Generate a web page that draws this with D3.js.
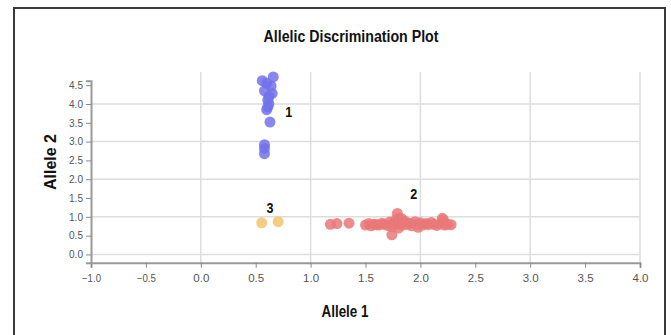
<!DOCTYPE html>
<html lang="en">
<head>
  <meta charset="utf-8">
  <script src="https://d3js.org/d3.v7.min.js"></script>
  <style>
    body { margin: 0; background: #fff; }
    text { font-family: "Liberation Sans", Arial, sans-serif; }
    .tick text { fill: #555; font-size: 10px; }
    .tick line { stroke: #888; }
    .domain { stroke: #999; stroke-width: 2; }
  </style>
</head>
<body>
<script>
// cluster 1 (blue), cluster 2 (red), cluster 3 (orange)
const blueX = [0.56, 0.66, 0.60, 0.64, 0.58, 0.65, 0.62, 0.61, 0.62, 0.61, 0.60, 0.63, 0.58, 0.58, 0.58];
const blueY = [4.62, 4.72, 4.55, 4.48, 4.35, 4.28, 4.20, 4.10, 4.00, 3.92, 3.85, 3.52, 2.92, 2.82, 2.68];

const redX = [1.18, 1.24, 1.35, 1.50, 1.53, 1.55, 1.58, 1.60, 1.62, 1.65, 1.67, 1.70, 1.72, 1.74, 1.75,
              1.77, 1.78, 1.79, 1.80, 1.82, 1.84, 1.86, 1.88, 1.90, 1.92, 1.95, 1.97, 2.00, 2.02, 2.05,
              2.07, 2.10, 2.12, 2.15, 2.18, 2.20, 2.22, 2.25, 2.28, 1.80, 1.74, 2.21, 1.83, 1.98];
const redY = [0.80, 0.82, 0.83, 0.78, 0.82, 0.76, 0.80, 0.79, 0.78, 0.83, 0.80, 0.77, 0.86, 0.74, 0.82,
              0.90, 0.80, 1.09, 0.96, 0.84, 0.78, 0.88, 0.80, 0.83, 0.76, 0.87, 0.80, 0.84, 0.78, 0.82,
              0.79, 0.85, 0.80, 0.77, 0.82, 0.96, 0.78, 0.80, 0.79, 0.70, 0.52, 0.92, 0.95, 0.72];

const orangeX = [0.555, 0.705];
const orangeY = [0.84, 0.87];

// cluster labels
const labelText = ["1", "2", "3"];
const labelX = [0.80, 1.94, 0.63];
const labelY = [3.76, 1.58, 1.20];

const xTicks = [-1.0, -0.5, 0.0, 0.5, 1.0, 1.5, 2.0, 2.5, 3.0, 3.5, 4.0];
const yTicks = [0.0, 0.5, 1.0, 1.5, 2.0, 2.5, 3.0, 3.5, 4.0, 4.5];
const gridX = [0, 1, 2, 3, 4];
const gridY = [0, 1, 2, 3, 4];

const W = 671, H = 335;
var svg = d3.select("body").append("svg")
  .attr("width", W)
  .attr("height", H);

// frame
svg.append("rect")
  .attr("x", 14).attr("y", 8)
  .attr("width", 651).attr("height", 340)
  .attr("fill", "#fff")
  .attr("stroke", "#3a3a3a")
  .attr("stroke-width", 2);

var x = d3.scaleLinear().domain([-1, 4]).range([91, 640]);
var y = d3.scaleLinear().domain([-0.22, 4.62]).range([262.7, 80.7]);

// grid
svg.append("g").selectAll("line").data(gridX).enter().append("line")
  .attr("x1", d => x(d)).attr("x2", d => x(d))
  .attr("y1", 72).attr("y2", y.range()[0])
  .attr("stroke", "#ddd").attr("stroke-width", 1.5);
svg.append("g").selectAll("line").data(gridY).enter().append("line")
  .attr("x1", x.range()[0]).attr("x2", x.range()[1])
  .attr("y1", d => y(d)).attr("y2", d => y(d))
  .attr("stroke", "#ddd").attr("stroke-width", 1.5);

// axes
var xAxis = svg.append("g")
  .attr("transform", "translate(0," + y.range()[0] + ")")
  .call(d3.axisBottom(x).tickValues(xTicks).tickFormat(d3.format(".1f")).tickSize(5).tickSizeOuter(5));
xAxis.selectAll(".tick text").attr("dy", "1.1em").attr("textLength", 16).attr("lengthAdjust", "spacingAndGlyphs");
xAxis.selectAll(".tick text").filter(d => d < 0).attr("textLength", 19);
var yAxis = svg.append("g")
  .attr("transform", "translate(" + x.range()[0] + ",0)")
  .call(d3.axisLeft(y).tickValues(yTicks).tickFormat(d3.format(".1f")).tickSize(5).tickSizeOuter(5));
yAxis.selectAll(".tick text").attr("textLength", 14).attr("lengthAdjust", "spacingAndGlyphs");

// points
function dots(xs, ys, color) {
  svg.append("g").selectAll("circle")
    .data(xs.map((d, i) => ({x: d, y: ys[i]})))
    .enter().append("circle")
    .attr("cx", d => x(d.x))
    .attr("cy", d => y(d.y))
    .attr("r", 5.5)
    .attr("fill", color)
    .attr("fill-opacity", 0.85);
}
dots(blueX, blueY, "#7272ea");
dots(redX, redY, "#ea7878");
dots(orangeX, orangeY, "#f2c36e");

// cluster labels
svg.append("g").selectAll("text")
  .data(labelText).enter().append("text")
  .attr("x", (d, i) => x(labelX[i]))
  .attr("y", (d, i) => y(labelY[i]))
  .attr("text-anchor", "middle")
  .attr("dominant-baseline", "middle")
  .attr("font-size", 15)
  .attr("font-weight", "bold")
  .attr("fill", "#111")
  .attr("textLength", 7).attr("lengthAdjust", "spacingAndGlyphs")
  .text(d => d);

// titles
svg.append("text")
  .attr("x", 351).attr("y", 42)
  .attr("text-anchor", "middle")
  .attr("font-size", 16).attr("font-weight", "bold").attr("fill", "#111")
  .attr("textLength", 175).attr("lengthAdjust", "spacingAndGlyphs")
  .text("Allelic Discrimination Plot");
svg.append("text")
  .attr("x", 345).attr("y", 317)
  .attr("text-anchor", "middle")
  .attr("font-size", 16).attr("font-weight", "bold").attr("fill", "#111")
  .attr("textLength", 47).attr("lengthAdjust", "spacingAndGlyphs")
  .text("Allele 1");
svg.append("text")
  .attr("transform", "translate(56,162) rotate(-90)")
  .attr("text-anchor", "middle")
  .attr("font-size", 16).attr("font-weight", "bold").attr("fill", "#111")
  .text("Allele 2");
</script>
</body>
</html>
